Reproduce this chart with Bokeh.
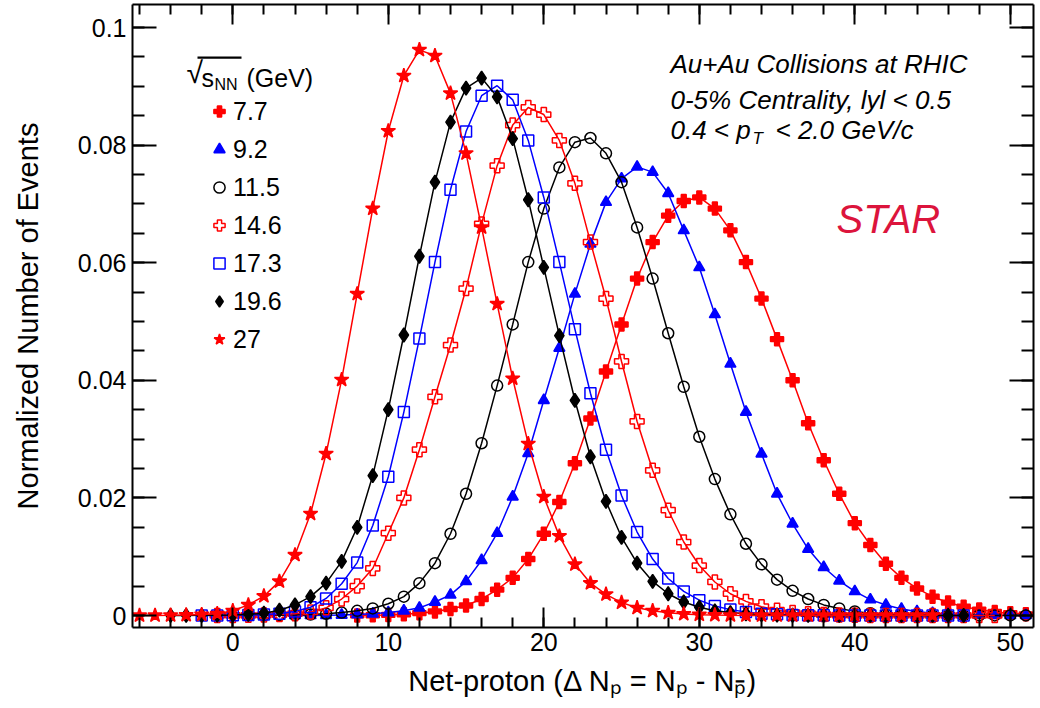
from bokeh.plotting import figure
from bokeh.models import (Range1d, LinearAxis, FixedTicker, CustomJSTickFormatter, Label,
                          Legend, LegendItem, ColumnDataSource, BoxAnnotation)
from bokeh.embed import file_html
from bokeh.resources import INLINE

# ---------------- data ----------------
energies = ["7.7", "9.2", "11.5", "14.6", "17.3", "19.6", "27"]

x_77 = list(range(8, 52))
y_77 = [0.00002, 0.00004, 0.0001, 0.0002, 0.0004, 0.0007, 0.0011, 0.0017, 0.0028, 0.0044,
        0.0064, 0.0096, 0.0139, 0.0193, 0.0259, 0.0335, 0.0415, 0.0495, 0.0573, 0.0635,
        0.0680, 0.0705, 0.0711, 0.0692, 0.0655, 0.0601, 0.0539, 0.0470, 0.0400, 0.0327,
        0.0264, 0.0207, 0.0157, 0.0120, 0.0088, 0.0064, 0.0046, 0.0032, 0.0022, 0.0015,
        0.0010, 0.0006, 0.0004, 0.0002]

x_92 = list(range(4, 52))
y_92 = [0.00001, 0.00002, 0.00004, 0.00008, 0.00015, 0.0003, 0.0005, 0.0008, 0.0013, 0.0023,
        0.0035, 0.0058, 0.0094, 0.0140, 0.0202, 0.0276, 0.0366, 0.0455, 0.0547, 0.0632,
        0.0703, 0.0743, 0.0763, 0.0754, 0.0718, 0.0655, 0.0592, 0.0512, 0.0428, 0.0346,
        0.0275, 0.0207, 0.0156, 0.0113, 0.0082, 0.0059, 0.0041, 0.0027, 0.0018, 0.0011,
        0.0007, 0.0004, 0.0002, 0.0001, 0.00006, 0.00003, 0.00002, 0.00001]

x_115 = list(range(1, 52))
y_115 = [0.00001, 0.00002, 0.00004, 0.00008, 0.00015, 0.0003, 0.0005, 0.0008, 0.0012, 0.0020,
         0.0032, 0.0055, 0.0089, 0.0139, 0.0207, 0.0293, 0.0391, 0.0495, 0.0601, 0.0692,
         0.0762, 0.0805, 0.0812, 0.0786, 0.0737, 0.0660, 0.0573, 0.0480, 0.0389, 0.0304,
         0.0232, 0.0172, 0.0122, 0.0087, 0.0061, 0.0042, 0.0028, 0.0018, 0.0012, 0.0007,
         0.0004, 0.0002, 0.0001, 0.00005, 0.00003, 0.00002, 0.00001, 0.00001, 0.00001, 0.00001,
         0.00001]

x_146 = list(range(-1, 50))
y_146 = [0.00001, 0.00002, 0.00004, 0.00008, 0.00015, 0.0003, 0.0006, 0.0013, 0.0028, 0.0050,
         0.0080, 0.0140, 0.0200, 0.0282, 0.0372, 0.0460, 0.0556, 0.0666, 0.0765, 0.0834,
         0.0864, 0.0852, 0.0808, 0.0735, 0.0635, 0.0539, 0.0432, 0.0330, 0.0247, 0.0179,
         0.0125, 0.0085, 0.0057, 0.0037, 0.0024, 0.0015, 0.0009, 0.0005, 0.0003, 0.00015,
         0.00008, 0.00004, 0.00002, 0.00001, 0.00001, 0.00001, 0.00001, 0.00001, 0.00001, 0.00001,
         0.00001]

x_173 = list(range(-2, 48))
y_173 = [0.00001, 0.00002, 0.00004, 0.00008, 0.00015, 0.0003, 0.0007, 0.0014, 0.0029, 0.0054,
         0.0090, 0.0153, 0.0236, 0.0346, 0.0471, 0.0601, 0.0724, 0.0823, 0.0884, 0.0901,
         0.0877, 0.0808, 0.0711, 0.0601, 0.0487, 0.0378, 0.0282, 0.0204, 0.0142, 0.0096,
         0.0063, 0.0041, 0.0026, 0.0016, 0.0010, 0.0006, 0.0003, 0.0002, 0.0001, 0.00005,
         0.00003, 0.00002, 0.00001, 0.00001, 0.00001, 0.00001, 0.00001, 0.00001, 0.00001, 0.00001]

x_196 = list(range(-4, 48))
y_196 = [0.00001, 0.00002, 0.00003, 0.00005, 0.0001, 0.0002, 0.0004, 0.0009, 0.0018, 0.0032,
         0.0055, 0.0092, 0.0150, 0.0238, 0.0350, 0.0477, 0.0611, 0.0737, 0.0839, 0.0897,
         0.0914, 0.0882, 0.0811, 0.0707, 0.0592, 0.0476, 0.0366, 0.0270, 0.0194, 0.0133,
         0.0089, 0.0058, 0.0037, 0.0023, 0.0014, 0.0008, 0.0005, 0.0003, 0.00015, 0.00008,
         0.00004, 0.00002, 0.00002, 0.00001, 0.00001, 0.00001, 0.00001, 0.00001, 0.00001, 0.00001,
         0.00001, 0.00001]

x_27 = list(range(-6, 46))
y_27 = [0.00001, 0.00002, 0.00004, 0.00008, 0.00015, 0.0003, 0.0008, 0.0018, 0.0033, 0.0058,
        0.0103, 0.0173, 0.0275, 0.0401, 0.0547, 0.0692, 0.0824, 0.0918, 0.0962, 0.0952,
        0.0888, 0.0786, 0.0660, 0.0530, 0.0403, 0.0292, 0.0202, 0.0135, 0.0087, 0.0055,
        0.0036, 0.0022, 0.0013, 0.0008, 0.00045, 0.00025, 0.00014, 0.00008, 0.00004, 0.00002,
        0.00001, 0.00001, 0.00001, 0.00001, 0.00001, 0.00001, 0.00001, 0.00001, 0.00001, 0.00001,
        0.00001, 0.00001]

x_major = [0, 10, 20, 30, 40, 50]
x_minor = list(range(-6, 52, 2))
y_major = [0, 0.02, 0.04, 0.06, 0.08, 0.1]
y_major_labels = ["0", "0.02", "0.04", "0.06", "0.08", "0.1"]
y_minor = [round(0.005 * i, 3) for i in range(21)]

RED, BLUE, BLACK = "#ff0000", "#0000ff", "#000000"
FONT = "Liberation Sans"

# layout helpers: page pixel -> data coordinates (for annotation placement only)
X0_PX, X_SCALE = 232.3, 15.55
Y0_PX, Y_SCALE = 615.0, 5880.0
def at_x(px):
    return (px - X0_PX) / X_SCALE
def at_y(py):
    return (Y0_PX - py) / Y_SCALE

p = figure(width=1040, height=706,
           x_range=Range1d(at_x(132), at_x(1033)), y_range=Range1d(at_y(627), at_y(4)),
           output_backend="svg", toolbar_location=None,
           min_border_left=132, min_border_right=7, min_border_top=4, min_border_bottom=79)
p.xgrid.visible = False
p.ygrid.visible = False
p.outline_line_color = None
p.background_fill_color = "white"
p.border_fill_color = "white"


def style_axis(ax, major_len, minor_len):
    ax.axis_line_width = 2
    ax.axis_line_color = "black"
    ax.major_tick_in = major_len
    ax.major_tick_out = 0
    ax.minor_tick_in = minor_len
    ax.minor_tick_out = 0
    ax.major_tick_line_width = 2
    ax.minor_tick_line_width = 2
    ax.major_tick_line_color = "black"
    ax.minor_tick_line_color = "black"
    ax.major_label_text_font = FONT
    ax.major_label_text_font_size = "25px"
    ax.major_label_text_color = "black"


xax = p.below[0]
xax.ticker = FixedTicker(ticks=x_major, minor_ticks=x_minor)
style_axis(xax, 20, 10)
xax.major_label_standoff = 5
xax.axis_label = "Net-proton (Δ Nₚ = Nₚ - Nₚ̄)"
xax.axis_label_text_font = FONT
xax.axis_label_text_font_size = "29px"
xax.axis_label_text_font_style = "normal"
xax.axis_label_text_color = "black"
xax.axis_label_standoff = 11

yax = p.left[0]
yax.ticker = FixedTicker(ticks=y_major, minor_ticks=y_minor)
yax.major_label_overrides = dict(zip(y_major, y_major_labels))
style_axis(yax, 24, 12)
yax.major_label_standoff = 6
yax.axis_label = "Normalized Number of Events"
yax.axis_label_text_font = FONT
yax.axis_label_text_font_size = "29px"
yax.axis_label_text_font_style = "normal"
yax.axis_label_text_color = "black"
yax.axis_label_standoff = 31

top = LinearAxis(ticker=FixedTicker(ticks=x_major, minor_ticks=x_minor),
                 formatter=CustomJSTickFormatter(code="return ''"))
style_axis(top, 20, 10)
top.major_label_standoff = 0
p.add_layout(top, "above")

right = LinearAxis(ticker=FixedTicker(ticks=y_major, minor_ticks=y_minor),
                   formatter=CustomJSTickFormatter(code="return ''"))
style_axis(right, 24, 12)
right.major_label_standoff = 0
p.add_layout(right, "right")

series = [
    ("7.7", x_77, y_77, "plus", RED, RED, 13),
    ("9.2", x_92, y_92, "triangle", BLUE, BLUE, 11),
    ("11.5", x_115, y_115, "circle", BLACK, None, 11),
    ("14.6", x_146, y_146, "plus", RED, None, 14),
    ("17.3", x_173, y_173, "square", BLUE, None, 11),
    ("19.6", x_196, y_196, "diamond", BLACK, BLACK, 14),
    ("27", x_27, y_27, "star", RED, RED, 15),
]

items = []
for label, xs, ys, marker, color, fill, size in series:
    src = ColumnDataSource(dict(x=xs, y=ys))
    p.line("x", "y", source=src, line_color=color, line_width=1.5)
    r = p.scatter("x", "y", source=src, marker=marker, size=size, line_color=color,
                  fill_color=fill, line_width=1.5)
    items.append(LegendItem(label=label, renderers=[r]))

legend = Legend(items=items, location=(73, 273), orientation="vertical",
                border_line_color=None, background_fill_alpha=0, padding=0, margin=0,
                spacing=8, label_height=30, glyph_height=30, glyph_width=28, label_standoff=0,
                label_text_font=FONT, label_text_font_size="25px", label_text_color="black")
p.add_layout(legend)


def lab(px, py, text, size, style="normal", color="black", font=FONT):
    p.add_layout(Label(x=at_x(px), y=at_y(py), text=text, text_font=font,
                       text_font_size=f"{size}px", text_font_style=style, text_color=color,
                       text_align="left", text_baseline="alphabetic"))


# legend title: sqrt(s_NN) (GeV)
lab(186, 72, "√", 30)
lab(201, 77, "s", 25)
lab(214, 84, "NN", 16)
lab(246, 77, "(GeV)", 25)
p.add_layout(BoxAnnotation(left=at_x(197), right=at_x(241), top=at_y(56), bottom=at_y(58.2),
                           fill_color="black", fill_alpha=1, line_color=None))

# header texts
lab(670, 63, "Au+Au Collisions at RHIC", 26, "italic")
lab(670, 99, "0-5% Centrality, lyl < 0.5", 26, "italic")
lab(670, 129, "0.4 < p", 26, "italic")
lab(752, 138, "T", 17, "italic")
lab(775, 129, "< 2.0 GeV/c", 26, "italic")
lab(836, 218, "STAR", 40, "italic", "#dc143c")

open("out.html", "w").write(file_html(p, INLINE))
